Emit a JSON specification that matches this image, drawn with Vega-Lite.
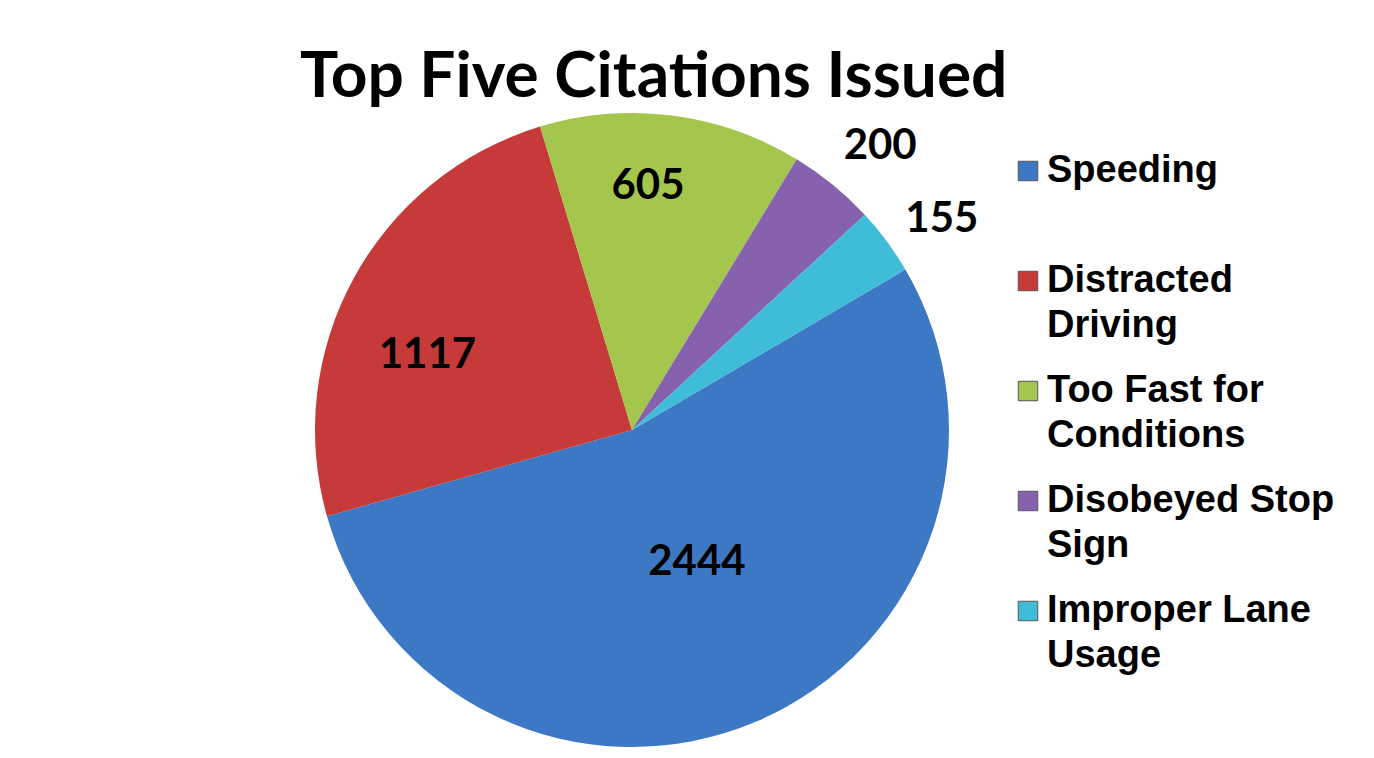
{
  "$schema": "https://vega.github.io/schema/vega-lite/v6.json",
  "autosize": {"type": "none"},
  "padding": {"left": 315, "top": 113, "right": 425, "bottom": 11},
  "width": 634,
  "height": 634,
  "background": "white",
  "config": {"view": {"stroke": null}},
  "title": {
    "text": "Top Five Citations Issued",
    "font": "Lato",
    "fontWeight": "bold",
    "fontSize": 64,
    "color": "black",
    "anchor": "start",
    "frame": "group",
    "baseline": "alphabetic",
    "offset": -124,
    "dx": -15
  },
  "data": {
    "values": [
      {"category": "Speeding", "count": 2444},
      {"category": "Distracted Driving", "count": 1117},
      {"category": "Too Fast for Conditions", "count": 605},
      {"category": "Disobeyed Stop Sign", "count": 200},
      {"category": "Improper Lane Usage", "count": 155}
    ]
  },
  "encoding": {
    "theta": {"field": "count", "type": "quantitative", "stack": true, "scale": {"range": [1.04, 7.3232]}},
    "order": {"field": "count", "sort": "descending"}
  },
  "layer": [
    {
      "mark": {"type": "arc", "outerRadius": 317},
      "encoding": {
        "color": {
          "field": "category",
          "type": "nominal",
          "scale": {
            "domain": ["Speeding", "Distracted Driving", "Too Fast for Conditions", "Disobeyed Stop Sign", "Improper Lane Usage"],
            "range": ["#3C78C3", "#C63B39", "#A5C64C", "#8561AE", "#3EBCD8"]
          },
          "legend": {
            "title": null,
            "orient": "none",
            "legendX": 694,
            "legendY": 39,
            "symbolType": "square",
            "symbolSize": 380,
            "symbolStrokeWidth": 1,
            "symbolStrokeColor": "#555555",
            "labelFont": "Liberation Sans",
            "labelFontWeight": "bold",
            "labelFontSize": 38,
            "labelColor": "black",
            "labelLimit": 400,
            "labelOffset": 0,
            "labelBaseline": "middle",
            "rowPadding": 27,
            "padding": 0,
            "labelExpr": "datum.label == 'Speeding' ? ['Speeding',''] : datum.label == 'Distracted Driving' ? ['Distracted','Driving'] : datum.label == 'Too Fast for Conditions' ? ['Too Fast for','Conditions'] : datum.label == 'Disobeyed Stop Sign' ? ['Disobeyed Stop','Sign'] : ['Improper Lane','Usage']",
            "encode": {"labels": {"update": {"lineHeight": {"value": 45}}}}
          }
        }
      }
    },
    {
      "mark": {"type": "text", "font": "Lato", "fontWeight": "bold", "fontSize": 42, "color": "black", "baseline": "middle", "align": "center", "thetaOffset": -0.054},
      "encoding": {
        "radius": {"value": 147},
        "text": {"condition": {"test": "datum.category == 'Speeding'", "field": "count", "type": "quantitative"}, "value": ""}
      }
    },
    {
      "mark": {"type": "text", "font": "Lato", "fontWeight": "bold", "fontSize": 42, "color": "black", "baseline": "middle", "align": "center", "thetaOffset": -0.147},
      "encoding": {
        "radius": {"value": 218},
        "text": {"condition": {"test": "datum.category == 'Distracted Driving'", "field": "count", "type": "quantitative"}, "value": ""}
      }
    },
    {
      "mark": {"type": "text", "font": "Lato", "fontWeight": "bold", "fontSize": 42, "color": "black", "baseline": "middle", "align": "center", "thetaOffset": -0.061},
      "encoding": {
        "radius": {"value": 245},
        "text": {"condition": {"test": "datum.category == 'Too Fast for Conditions'", "field": "count", "type": "quantitative"}, "value": ""}
      }
    },
    {
      "mark": {"type": "text", "font": "Lato", "fontWeight": "bold", "fontSize": 42, "color": "black", "baseline": "middle", "align": "center", "thetaOffset": 0.033},
      "encoding": {
        "radius": {"value": 377},
        "text": {"condition": {"test": "datum.category == 'Disobeyed Stop Sign'", "field": "count", "type": "quantitative"}, "value": ""}
      }
    },
    {
      "mark": {"type": "text", "font": "Lato", "fontWeight": "bold", "fontSize": 42, "color": "black", "baseline": "middle", "align": "center", "thetaOffset": 0.04},
      "encoding": {
        "radius": {"value": 375},
        "text": {"condition": {"test": "datum.category == 'Improper Lane Usage'", "field": "count", "type": "quantitative"}, "value": ""}
      }
    }
  ]
}
